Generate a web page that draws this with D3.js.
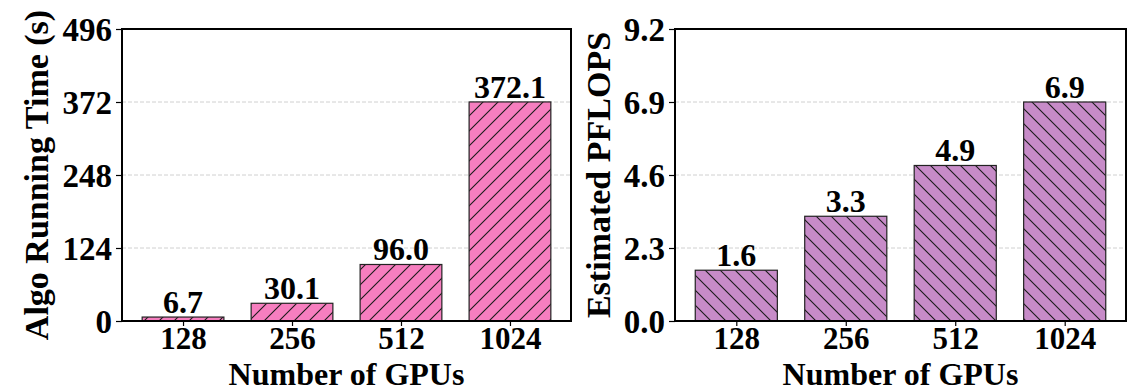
<!DOCTYPE html>
<html>
<head>
<meta charset="utf-8">
<script src="https://cdn.jsdelivr.net/npm/d3@7"></script>
<style>
  html, body { margin: 0; padding: 0; background: #fff; }
  svg { display: block; }
</style>
</head>
<body>
<script>
// GPU counts on the x axis
const gpuCounts = ["128", "256", "512", "1024"];
// Algorithm running time in seconds
const runningTime = [6.7, 30.1, 96.0, 372.1];
// Estimated throughput in PFLOPS
const pflops = [1.6, 3.3, 4.9, 6.9];
// Y tick values for each panel
const timeTicks = [0, 124, 248, 372, 496];
const pflopsTicks = [0.0, 2.3, 4.6, 6.9, 9.2];

const FONT = "'Liberation Serif', 'Times New Roman', Times, 'DejaVu Serif', serif";

const W = 1147, H = 392;
const svg = d3.select("body").append("svg").attr("width", W).attr("height", H);
const defs = svg.append("defs");

function styleText(sel, size) {
  sel.attr("font-family", FONT).attr("font-weight", "bold").attr("font-size", size)
    .attr("fill", "#000")
    .style("font-family", FONT).style("font-weight", "bold").style("font-size", size + "px");
  return sel;
}

function hatch(id, color, dir) {
  const s = 15;
  const p = defs.append("pattern")
    .attr("id", id).attr("patternUnits", "userSpaceOnUse")
    .attr("width", s).attr("height", s);
  p.append("rect").attr("width", s).attr("height", s).attr("fill", color);
  const d = dir > 0
    ? `M0,${s} L${s},0 M${-s/2},${s/2} L${s/2},${-s/2} M${s/2},${s*1.5} L${s*1.5},${s/2}`
    : `M0,0 L${s},${s} M${-s/2},${s/2} L${s/2},${s*1.5} M${s/2},${-s/2} L${s*1.5},${s/2}`;
  p.append("path").attr("d", d).attr("stroke", "#1a1a1a").attr("stroke-width", 1.1);
}
hatch("hatchPink", "#F67EBF", 1);
hatch("hatchPurple", "#C78BC8", -1);

function panel(opts) {
  const { x0, x1, y0, y1, values, ticks, fmtTick, fmtVal, fill, yTitle, yTitleX } = opts;
  const g = svg.append("g");
  const x = d3.scaleLinear().domain([-0.56, gpuCounts.length - 0.44]).range([x0, x1]);
  const y = d3.scaleLinear().domain([ticks[0], ticks[ticks.length - 1]]).range([y1, y0]);
  const bw = (x(1) - x(0)) * 0.75;

  // dashed grid
  g.selectAll(".grid").data(ticks.slice(1, -1)).enter().append("line")
    .attr("x1", x0).attr("x2", x1)
    .attr("y1", d => y(d)).attr("y2", d => y(d))
    .attr("stroke", "#d0d0d0").attr("stroke-width", 1).attr("stroke-dasharray", "4,2");

  // bars
  g.selectAll(".bar").data(values).enter().append("rect")
    .attr("x", (d, i) => x(i) - bw / 2)
    .attr("y", d => y(d))
    .attr("width", bw)
    .attr("height", d => y(0) - y(d))
    .attr("fill", `url(#${fill})`)
    .attr("stroke", "#222").attr("stroke-width", 1.2);

  // value labels
  styleText(g.selectAll(".val").data(values).enter().append("text")
    .attr("x", (d, i) => x(i))
    .attr("y", d => y(d) - 4)
    .attr("text-anchor", "middle")
    .text(d => fmtVal(d)), 32);

  // y axis
  const yAxis = d3.axisLeft(y).tickValues(ticks).tickFormat(fmtTick).tickSize(6).tickPadding(4);
  const ya = g.append("g").attr("transform", `translate(${x0},0)`).call(yAxis);
  ya.select(".domain").remove();
  ya.selectAll("line").attr("stroke", "#000").attr("stroke-width", 1.2);
  styleText(ya.selectAll("text"), 33).attr("dy", "0.34em");

  // x axis
  const xAxis = d3.axisBottom(x).tickValues(d3.range(gpuCounts.length))
    .tickFormat(i => gpuCounts[i]).tickSize(5).tickPadding(1);
  const xa = g.append("g").attr("transform", `translate(0,${y1})`).call(xAxis);
  xa.select(".domain").remove();
  xa.selectAll("line").attr("stroke", "#000").attr("stroke-width", 1.2);
  styleText(xa.selectAll("text"), 31).attr("dy", "0.71em");

  // frame
  g.append("rect").attr("x", x0).attr("y", y0).attr("width", x1 - x0).attr("height", y1 - y0)
    .attr("fill", "none").attr("stroke", "#000").attr("stroke-width", 2);

  // titles
  styleText(g.append("text").attr("x", (x0 + x1) / 2).attr("y", 385).attr("text-anchor", "middle")
    .text("Number of GPUs"), 32);
  styleText(g.append("text")
    .attr("transform", `translate(${yTitleX},${(y0 + y1) / 2}) rotate(-90)`)
    .attr("text-anchor", "middle")
    .text(yTitle), 34);
}

panel({
  x0: 122, x1: 571, y0: 29, y1: 321,
  values: runningTime, ticks: timeTicks,
  fmtTick: d3.format("d"), fmtVal: d3.format(".1f"),
  fill: "hatchPink", yTitle: "Algo Running Time (s)", yTitleX: 48
});
panel({
  x0: 675, x1: 1126, y0: 29, y1: 321,
  values: pflops, ticks: pflopsTicks,
  fmtTick: d3.format(".1f"), fmtVal: d3.format(".1f"),
  fill: "hatchPurple", yTitle: "Estimated PFLOPS", yTitleX: 610
});
</script>
</body>
</html>
